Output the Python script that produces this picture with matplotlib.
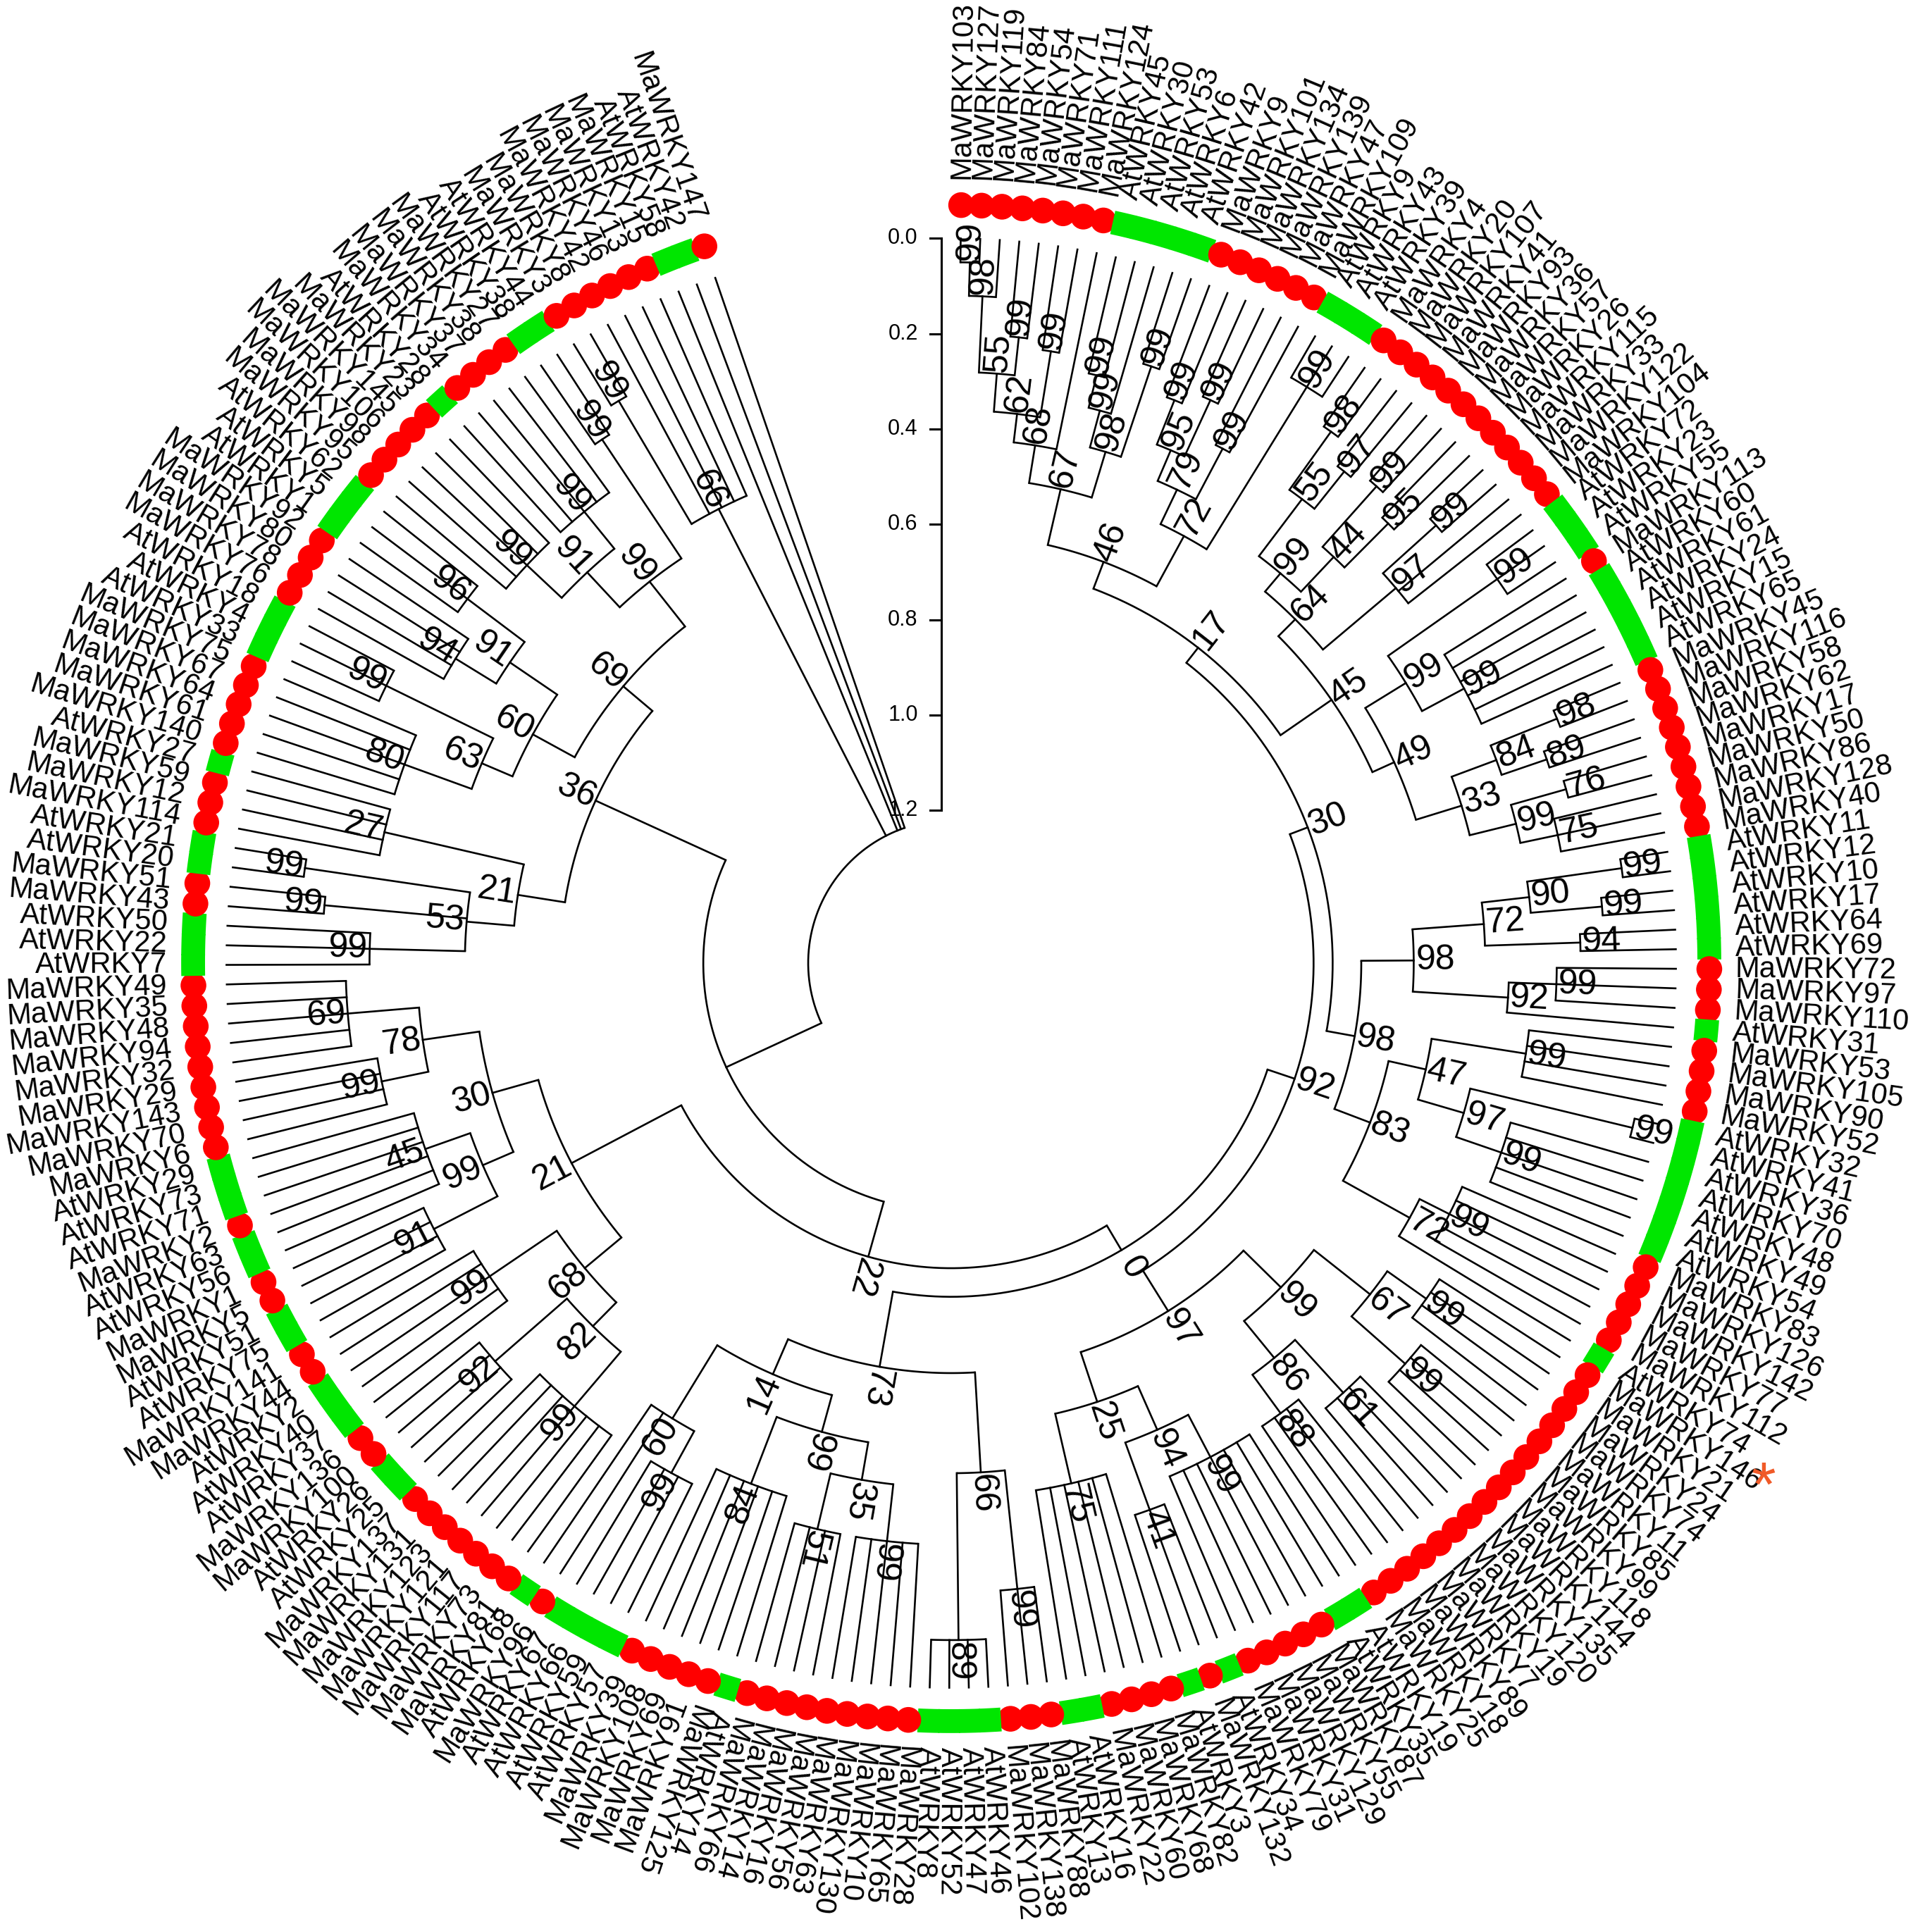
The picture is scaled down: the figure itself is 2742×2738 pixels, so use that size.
import numpy as np
import matplotlib
matplotlib.use("Agg")
import matplotlib.pyplot as plt
from matplotlib.patches import Circle, Wedge

plt.rcParams['font.family'] = ['Liberation Sans', 'DejaVu Sans']

labels = [
 "MaWRKY103","MaWRKY127","MaWRKY119","MaWRKY84","MaWRKY54","MaWRKY71","MaWRKY111","MaWRKY124",
 "AtWRKY45","AtWRKY30","AtWRKY53","AtWRKY6","AtWRKY42",
 "MaWRKY9","MaWRKY101","MaWRKY134","MaWRKY139","MaWRKY47","MaWRKY109",
 "AtWRKY9","AtWRKY43","AtWRKY39",
 "MaWRKY4","MaWRKY20","MaWRKY107","MaWRKY41","MaWRKY93","MaWRKY36","MaWRKY57","MaWRKY26","MaWRKY115","MaWRKY33","MaWRKY122","MaWRKY104",
 "AtWRKY72","AtWRKY23","AtWRKY55",
 "MaWRKY113",
 "AtWRKY60","AtWRKY61","AtWRKY24","AtWRKY15","AtWRKY65",
 "MaWRKY45","MaWRKY116","MaWRKY58","MaWRKY62","MaWRKY17","MaWRKY50","MaWRKY86","MaWRKY128","MaWRKY40",
 "AtWRKY11","AtWRKY12","AtWRKY10","AtWRKY17","AtWRKY64","AtWRKY69",
 "MaWRKY72","MaWRKY97","MaWRKY110",
 "AtWRKY31",
 "MaWRKY53","MaWRKY105","MaWRKY90","MaWRKY52",
 "AtWRKY32","AtWRKY41","AtWRKY36","AtWRKY70","AtWRKY48","AtWRKY49","AtWRKY54",
 "MaWRKY83","MaWRKY126","MaWRKY142","MaWRKY77","MaWRKY112",
 "AtWRKY74",
 "MaWRKY146","MaWRKY21","MaWRKY24","MaWRKY74","MaWRKY11","MaWRKY85","MaWRKY99","MaWRKY118",
 "MaWRKY144","MaWRKY135","MaWRKY120","MaWRKY19","MaWRKY7","MaWRKY89","MaWRKY18","MaWRKY25",
 "AtWRKY19","AtWRKY35",
 "MaWRKY87","MaWRKY55","MaWRKY129","MaWRKY31","MaWRKY79",
 "AtWRKY34",
 "MaWRKY132",
 "AtWRKY3",
 "MaWRKY82","MaWRKY68","MaWRKY60","MaWRKY22",
 "AtWRKY16","AtWRKY13",
 "MaWRKY88","MaWRKY138","MaWRKY102",
 "AtWRKY46","AtWRKY47","AtWRKY52","AtWRKY8",
 "MaWRKY28","MaWRKY65","MaWRKY10","MaWRKY130","MaWRKY63","MaWRKY56","MaWRKY16","MaWRKY14","MaWRKY66",
 "AtWRKY14",
 "MaWRKY125","MaWRKY91","MaWRKY69","MaWRKY108","MaWRKY39",
 "AtWRKY57","AtWRKY59","AtWRKY66","AtWRKY67",
 "MaWRKY96",
 "AtWRKY68",
 "MaWRKY81","MaWRKY73","MaWRKY117","MaWRKY121","MaWRKY123","MaWRKY131","MaWRKY137",
 "AtWRKY25","AtWRKY26",
 "MaWRKY100","MaWRKY136",
 "AtWRKY37","AtWRKY40","AtWRKY2",
 "MaWRKY44","MaWRKY141",
 "AtWRKY75","AtWRKY51",
 "MaWRKY5","MaWRKY1",
 "AtWRKY56","AtWRKY63",
 "MaWRKY2",
 "AtWRKY71","AtWRKY73","AtWRKY29",
 "MaWRKY6","MaWRKY70","MaWRKY143","MaWRKY29","MaWRKY32","MaWRKY94","MaWRKY48","MaWRKY35","MaWRKY49",
 "AtWRKY7","AtWRKY22","AtWRKY50",
 "MaWRKY43","MaWRKY51",
 "AtWRKY20","AtWRKY21",
 "MaWRKY114","MaWRKY12","MaWRKY59",
 "AtWRKY27",
 "MaWRKY140","MaWRKY61","MaWRKY64","MaWRKY67","MaWRKY75",
 "AtWRKY33","AtWRKY4","AtWRKY18",
 "MaWRKY76","MaWRKY78","MaWRKY80","MaWRKY92",
 "AtWRKY1","AtWRKY5","AtWRKY62",
 "MaWRKY95","MaWRKY98","MaWRKY106","MaWRKY145","MaWRKY23",
 "AtWRKY28",
 "MaWRKY34","MaWRKY37","MaWRKY38","MaWRKY27",
 "AtWRKY38","AtWRKY44",
 "MaWRKY3","MaWRKY8","MaWRKY42","MaWRKY46","MaWRKY13","MaWRKY15",
 "AtWRKY58","AtWRKY42",
 "MaWRKY147",
]

# clades: first leaf index, last leaf index, node height (branch-length units), bootstrap
clade_start = [0,0,3,0,5,0,0,8,8,11,8,0,13,15,13,17,13,19,13,0,
               22,24,22,26,28,26,22,30,30,22,34,37,34,43,45,43,47,49,47,43,34,22,0,0,
               52,54,52,56,52,58,58,52,62,66,68,66,62,73,73,62,52,
               79,83,79,87,91,87,79,95,102,95,105,95,79,0,
               111,114,111,118,123,118,127,118,133,133,118,111,0,
               139,146,139,150,139,155,159,155,165,169,165,155,139,0,
               174,177,179,174,181,174,185,190,185,193,197,193,185,200,205,200,210,200,185,174,0,
               212,212,0]
clade_end   = [1,2,4,4,6,6,7,9,10,12,12,12,14,16,16,18,18,21,21,21,
               23,25,25,27,29,29,29,31,33,33,36,42,42,44,46,46,48,51,51,51,51,51,51,78,
               53,55,55,57,57,60,61,61,65,67,72,72,72,77,78,78,78,
               82,86,86,90,94,94,94,101,104,104,110,110,110,110,
               113,117,117,122,126,126,132,132,136,138,138,138,138,
               145,149,149,154,154,158,164,164,168,173,173,173,173,173,
               176,178,180,180,184,184,189,192,192,196,199,199,199,204,209,209,211,211,211,211,211,
               213,217,220]
clade_height = [.05,.12,.2,.28,.22,.36,.42,.25,.32,.2,.4,.5,.25,.22,.35,.3,.42,.1,.5,.62,
                .15,.2,.3,.18,.22,.35,.45,.15,.3,.5,.12,.3,.4,.15,.2,.3,.18,.22,.3,.4,.5,.55,.68,.72,
                .1,.15,.3,.2,.4,.25,.35,.55,.3,.05,.3,.4,.5,.35,.42,.58,.66,
                .3,.25,.4,.3,.35,.45,.55,.35,.3,.45,.4,.55,.66,.76,
                .2,.1,.45,.3,.3,.42,.35,.5,.3,.4,.58,.66,.82,
                .3,.25,.45,.35,.52,.3,.35,.45,.3,.25,.4,.52,.62,.88,
                .3,.2,.15,.5,.3,.6,.3,.2,.45,.3,.25,.4,.52,.3,.3,.4,.2,.5,.62,.7,1.0,
                .15,.45,1.22]
clade_support = [99,98,99,55,99,62,68,99,99,99,98,67,99,99,95,99,79,99,72,46,
                 98,97,55,99,95,44,99,99,97,64,99,99,99,98,89,84,76,75,99,33,49,45,17,30,
                 99,99,90,94,72,99,92,98,99,99,99,97,47,99,72,83,98,
                 99,99,67,61,88,86,99,99,41,94,75,25,97,92,
                 99,89,66,99,51,35,84,99,99,60,14,73,0,
                 99,92,82,99,68,91,45,99,99,69,78,30,21,22,
                 99,99,99,53,27,21,80,99,63,94,96,91,60,99,99,91,99,99,69,36,None,
                 99,66,None]

star_leaf = "MaWRKY146"
scale_ticks = [0.0, 0.2, 0.4, 0.6, 0.8, 1.0, 1.2]

RED = "#ff0000"; GREEN = "#00e600"
R_TIP = 1.52; R_RING = 1.59; R_LAB = 1.645
n = len(labels)
b0, b1 = 0.75, 341.0
bear = b0 + np.arange(n) * (b1 - b0) / (n - 1)
step = (b1 - b0) / (n - 1)

def xy(r, b):
    t = np.deg2rad(b)
    return r * np.sin(t), r * np.cos(t)

fig = plt.figure(figsize=(27.42, 27.38), dpi=100)
ax = fig.add_axes([0, 0, 1, 1])
ax.set_xlim(-1.995, 2.057); ax.set_ylim(-2.026, 2.02)
ax.set_aspect('equal'); ax.axis('off')
LW = 1.9

m = len(clade_start)
order = sorted(range(m), key=lambda k: clade_end[k] - clade_start[k])
def parent_of_range(s, e, exclude=None):
    best = None
    for k in range(m):
        if k == exclude: continue
        if clade_start[k] <= s and e <= clade_end[k] and not (clade_start[k] == s and clade_end[k] == e):
            if best is None or clade_end[k]-clade_start[k] < clade_end[best]-clade_start[best]:
                best = k
    return best

node_r = [R_TIP - h for h in clade_height]
node_b = [None]*m
children = {k: [] for k in range(m)}
for k in range(m):
    p = parent_of_range(clade_start[k], clade_end[k], exclude=k)
    if p is not None: children[p].append(('c', k))
for i in range(n):
    p = parent_of_range(i, i)
    children[p].append(('l', i))
for k in order:
    angs = [bear[i] if t == 'l' else node_b[i] for t, i in children[k]]
    lo, hi = min(angs), max(angs)
    node_b[k] = (lo + hi) / 2
    bb = np.linspace(lo, hi, max(3, int((hi - lo) * 4)))
    X, Y = xy(node_r[k], bb)
    ax.plot(X, Y, color='k', lw=LW, solid_capstyle='butt')
    for t, i in children[k]:
        if t == 'l':
            r1, b = R_TIP, bear[i]
        else:
            r1, b = node_r[i], node_b[i]
        X, Y = xy(np.array([node_r[k], r1]), b)
        ax.plot(X, Y, color='k', lw=LW)

def rot(b):
    if b <= 200:
        return 90 - b, 'left'
    return 270 - b, 'right'

for k in range(m):
    if clade_support[k] is None: continue
    x, y = xy(node_r[k] + 0.045, node_b[k])
    r_, _ = rot(node_b[k])
    ax.text(x, y, str(clade_support[k]), fontsize=36, rotation=r_, ha='center', va='center',
            rotation_mode='anchor')

for i, lab in enumerate(labels):
    b = bear[i]
    if lab.startswith("Ma"):
        x, y = xy(R_RING, b)
        ax.add_patch(Circle((x, y), 0.027, color=RED, lw=0))
    else:
        ax.add_patch(Wedge((0, 0), R_RING + 0.025, 90 - b - step/2 - 0.05, 90 - b + step/2 + 0.05,
                           width=0.05, color=GREEN, lw=0))
    x, y = xy(R_LAB, b)
    r_, ha = rot(b)
    ax.text(x, y, lab, fontsize=30, rotation=r_, ha=ha, va='center', rotation_mode='anchor')
    if lab == star_leaf:
        sx, sy = xy(2.03, b)
        ax.text(sx, sy, "*", fontsize=64, color="#f05a28", ha='center', va='center')

sx = -0.02
ax.plot([sx, sx], [R_TIP - scale_ticks[-1], R_TIP - scale_ticks[0]], color='k', lw=2.2)
for v in scale_ticks:
    yy = R_TIP - v
    ax.plot([sx - 0.025, sx], [yy, yy], color='k', lw=2.2)
    ax.text(sx - 0.05, yy, f"{v:.1f}", fontsize=22, ha='right', va='center')

fig.savefig("out.png", dpi=100, facecolor='white')
